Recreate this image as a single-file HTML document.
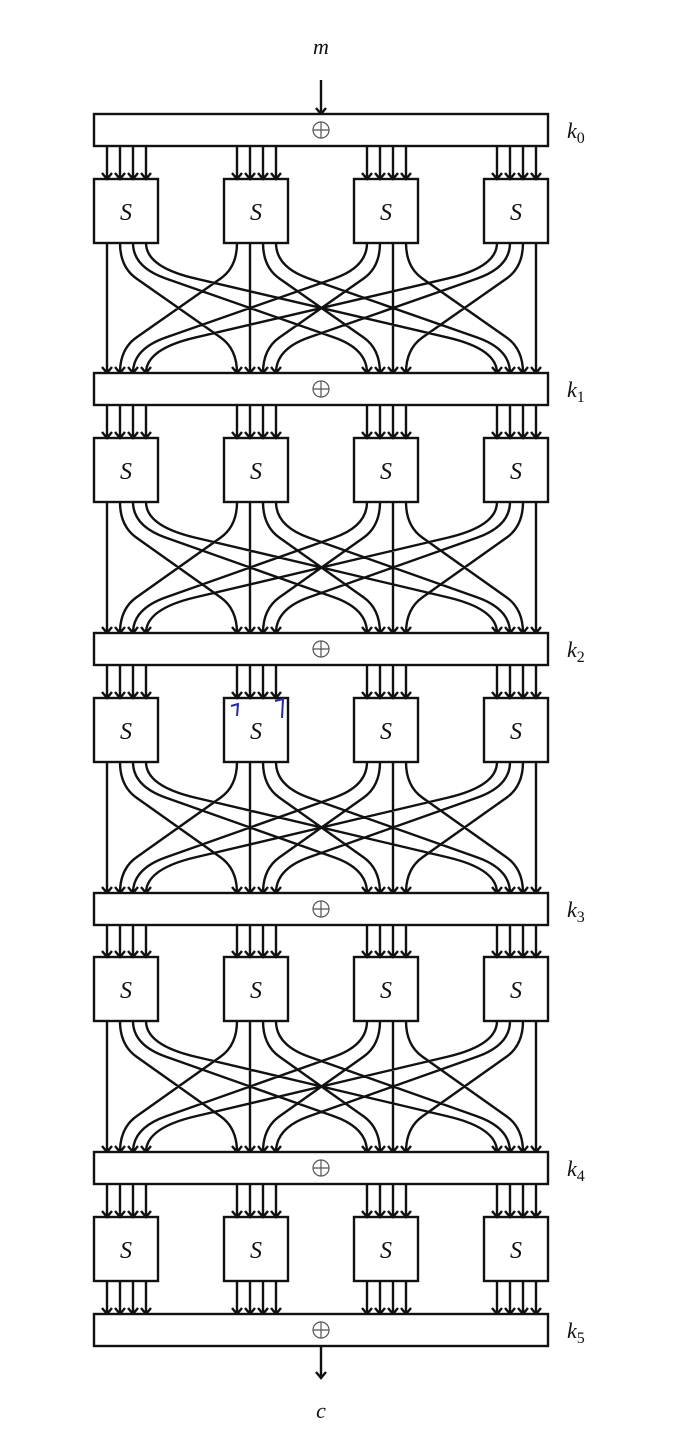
<!DOCTYPE html>
<html><head><meta charset="utf-8"><style>
html,body{margin:0;padding:0;background:#fff;}
svg{display:block;}
text{font-family:"Liberation Serif",serif;font-style:italic;fill:#111;}
</style></head><body>
<svg id="s" width="692" height="1446" viewBox="0 0 692 1446" xmlns="http://www.w3.org/2000/svg">
<text x="321" y="54" font-size="22" text-anchor="middle">m</text>
<text x="321" y="1418" font-size="22" text-anchor="middle">c</text>
<g font-size="22">
<text x="567" y="138">k<tspan font-size="16" font-style="normal" dy="5">0</tspan></text>
<text x="567" y="397">k<tspan font-size="16" font-style="normal" dy="5">1</tspan></text>
<text x="567" y="657">k<tspan font-size="16" font-style="normal" dy="5">2</tspan></text>
<text x="567" y="917">k<tspan font-size="16" font-style="normal" dy="5">3</tspan></text>
<text x="567" y="1176">k<tspan font-size="16" font-style="normal" dy="5">4</tspan></text>
<text x="567" y="1338">k<tspan font-size="16" font-style="normal" dy="5">5</tspan></text>
</g>
<g id="sl" font-size="24" text-anchor="middle">
<text x="126" y="220">S</text><text x="256" y="220">S</text><text x="386" y="220">S</text><text x="516" y="220">S</text>
<text x="126" y="479">S</text><text x="256" y="479">S</text><text x="386" y="479">S</text><text x="516" y="479">S</text>
<text x="126" y="739">S</text><text x="256" y="739">S</text><text x="386" y="739">S</text><text x="516" y="739">S</text>
<text x="126" y="998">S</text><text x="256" y="998">S</text><text x="386" y="998">S</text><text x="516" y="998">S</text>
<text x="126" y="1258">S</text><text x="256" y="1258">S</text><text x="386" y="1258">S</text><text x="516" y="1258">S</text>
</g>
<g id="g" fill="none" stroke="#111" stroke-width="2.4"></g>
<path d="M231 706 L238 704 L237 716 M275 701 L283 699 L282 718" stroke="#2a2aa0" stroke-width="2" fill="none"/>
</svg>
<script>
var g=document.getElementById('g');var d='';
var bars=[114,373,633,893,1152,1314];
var boxes=[179,438,698,957,1217];
function arrow(x,y){return 'M'+(x-5)+' '+(y-6)+'L'+x+' '+y+'L'+(x+5)+' '+(y-6);}
var h='';
bars.forEach(function(y){h+='<rect x="94" y="'+y+'" width="454" height="32" fill="#fff"/>';
 h+='<circle cx="321" cy="'+(y+16)+'" r="8" stroke-width="1.2" stroke="#555"/><path d="M313 '+(y+16)+'H329M321 '+(y+8)+'V'+(y+24)+'" stroke-width="1.2" stroke="#555"/>';});
boxes.forEach(function(y){for(var i=0;i<4;i++)h+='<rect x="'+(94+130*i)+'" y="'+y+'" width="64" height="64"/>';});
for(var r=0;r<5;r++){var yb=bars[r]+32,yt=boxes[r];
 for(var i=0;i<4;i++)for(var j=0;j<4;j++){var x=107+130*i+13*j;d+='M'+x+' '+yb+'V'+yt+arrow(x,yt);}
}
for(var r=0;r<4;r++){var y0=boxes[r]+64,y1=bars[r+1];
 for(var i=0;i<4;i++)for(var j=0;j<4;j++){var x1=107+130*i+13*j,x2=107+130*j+13*i;
  if(x1==x2){d+='M'+x1+' '+y0+'V'+y1;}
  else{var k=24,t=0.14;
   var c1x=x1,c1y=y0+k,c2x=x2,c2y=y1-k;
   var p1x=c1x+t*(c2x-c1x),p1y=c1y+t*(c2y-c1y),p2x=c2x-t*(c2x-c1x),p2y=c2y-t*(c2y-c1y);
   d+='M'+x1+' '+y0+'Q'+c1x+' '+c1y+' '+p1x+' '+p1y+'L'+p2x+' '+p2y+'Q'+c2x+' '+c2y+' '+x2+' '+y1;}
  d+=arrow(x2,y1);}
}
var y0=1281,y1=1314;for(var i=0;i<4;i++)for(var j=0;j<4;j++){var x=107+130*i+13*j;d+='M'+x+' '+y0+'V'+y1+arrow(x,y1);}
d+='M321 80V114'+arrow(321,114)+'M321 1346V1378'+arrow(321,1378);
g.innerHTML='<path d="'+d+'"/>'+h;
</script>
</body></html>
